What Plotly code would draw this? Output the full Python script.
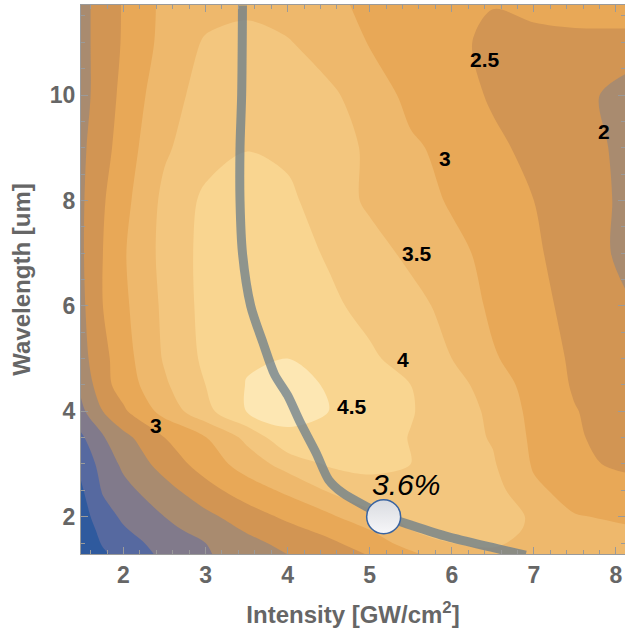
import plotly.graph_objects as go

# ---------------- data ----------------
intensity = [1.45, 1.75, 2.0, 2.5, 3.0, 3.5, 4.0, 4.5, 5.0, 5.5, 6.0, 6.5, 7.0, 7.5, 8.15]
wavelength = [1.25, 1.5, 1.75, 2.0, 2.5, 3.0, 3.5, 4.0, 4.5, 5.0, 6.0, 7.0, 8.0, 9.0, 10.0, 11.0, 11.75]
efficiency = [
    [0.00, 0.40, 0.65, 1.10, 1.45, 1.72, 1.98, 2.25, 2.50, 2.85, 3.25, 3.40, 3.35, 3.20, 3.15],
    [0.05, 0.55, 0.80, 1.19, 1.50, 1.85, 2.15, 2.40, 2.75, 3.20, 3.50, 3.55, 3.40, 3.15, 3.10],
    [0.10, 0.67, 0.95, 1.35, 1.70, 2.05, 2.35, 2.65, 3.00, 3.50, 3.65, 3.62, 3.45, 3.10, 3.03],
    [0.20, 0.80, 1.08, 1.50, 1.87, 2.25, 2.60, 2.90, 3.35, 3.62, 3.72, 3.68, 3.45, 3.02, 2.95],
    [0.35, 1.05, 1.35, 1.82, 2.32, 2.75, 3.10, 3.55, 3.85, 3.95, 3.85, 3.70, 3.08, 2.85, 2.65],
    [0.55, 1.20, 1.60, 2.20, 2.72, 3.22, 3.70, 4.06, 4.10, 4.00, 3.80, 3.55, 2.95, 2.58, 2.42],
    [0.85, 1.45, 1.85, 2.50, 2.98, 3.62, 4.40, 4.42, 4.22, 3.98, 3.72, 3.46, 2.90, 2.55, 2.30],
    [1.30, 2.00, 2.42, 3.18, 3.85, 4.51, 4.65, 4.50, 4.25, 4.03, 3.75, 3.40, 2.85, 2.52, 2.25],
    [1.50, 2.33, 2.72, 3.43, 4.00, 4.52, 4.62, 4.47, 4.20, 4.00, 3.70, 3.25, 2.80, 2.45, 2.15],
    [1.75, 2.35, 2.80, 3.55, 4.10, 4.45, 4.50, 4.30, 4.08, 3.80, 3.50, 3.05, 2.75, 2.42, 2.10],
    [1.80, 2.50, 2.90, 3.60, 4.15, 4.38, 4.40, 4.10, 3.85, 3.65, 3.35, 2.90, 2.60, 2.40, 2.03],
    [1.85, 2.50, 2.95, 3.65, 4.15, 4.30, 4.20, 3.95, 3.68, 3.40, 3.12, 2.87, 2.58, 2.25, 1.88],
    [1.85, 2.45, 2.85, 3.62, 4.10, 4.25, 4.10, 3.75, 3.42, 3.20, 2.95, 2.75, 2.50, 2.28, 1.88],
    [1.85, 2.30, 2.75, 3.43, 3.80, 3.98, 3.90, 3.70, 3.43, 3.08, 2.85, 2.58, 2.40, 2.20, 1.88],
    [1.80, 2.20, 2.65, 3.30, 3.68, 3.85, 3.80, 3.58, 3.30, 2.85, 2.68, 2.45, 2.30, 2.13, 1.85],
    [1.80, 2.20, 2.55, 3.15, 3.55, 3.65, 3.53, 3.30, 2.97, 2.80, 2.60, 2.40, 2.30, 2.30, 2.20],
    [1.80, 2.20, 2.54, 3.12, 3.30, 3.38, 3.30, 3.10, 2.90, 2.78, 2.65, 2.52, 2.70, 2.85, 3.05],
]

# optimum path
path_x = [3.45, 3.44, 3.42, 3.42, 3.45, 3.55, 3.70, 3.84, 4.00, 4.15, 4.35, 4.50, 4.67, 4.96, 5.20, 5.52, 5.95, 6.45, 6.90]
path_y = [11.70, 10.0, 9.0, 8.0, 7.0, 6.0, 5.3, 4.7, 4.3, 3.8, 3.2, 2.7, 2.45, 2.19, 2.0, 1.83, 1.62, 1.43, 1.27]

point_x = [5.17]
point_y = [2.0]
point_label = "3.6%"

label_text = ["2.5", "2", "3", "3.5", "4", "4.5", "3"]
label_x = [6.41, 7.85, 5.92, 5.58, 5.40, 4.79, 2.40]
label_y = [10.67, 9.30, 8.80, 7.00, 4.99, 4.10, 3.73]

band_colors = ['#2F5A9E', '#5669A0', '#817A8B', '#A98B6F', '#D29553',
               '#E8A857', '#EEB86C', '#F3C67E', '#F9D590', '#FDE7B3']

# ---------------- figure ----------------
n = len(band_colors)
colorscale = [[i / (n - 1), c] for i, c in enumerate(band_colors)]

fig = go.Figure()
fig.add_trace(go.Contour(
    x=intensity, y=wavelength, z=efficiency,
    colorscale=colorscale, showscale=False,
    contours=dict(start=0.5, end=4.5, size=0.5, coloring='fill', showlines=False),
    line=dict(width=0, smoothing=0.9),
    hoverinfo='skip',
))

fig.add_trace(go.Scatter(
    x=path_x, y=path_y, mode='lines',
    line=dict(color='rgba(105,125,140,0.75)', width=9, shape='spline', smoothing=0.8),
    cliponaxis=False, hoverinfo='skip', showlegend=False,
))

fig.add_trace(go.Scatter(
    x=point_x, y=point_y, mode='markers',
    marker=dict(size=34, color='#D9DBE0',
                gradient=dict(type='vertical', color='#F7F7F9'),
                line=dict(color='#3A64A0', width=1.5)),
    hoverinfo='skip', showlegend=False,
))

annotations = []
for t, x, y in zip(label_text, label_x, label_y):
    annotations.append(dict(x=x, y=y, text=f"<b>{t}</b>", showarrow=False,
                            font=dict(family='Liberation Sans, Arial', size=21, color='black')))
annotations.append(dict(x=point_x[0] + 0.27, y=point_y[0] + 0.62, text=f"<i>{point_label}</i>",
                        showarrow=False,
                        font=dict(family='Liberation Sans, Arial', size=30, color='black')))

axis_common = dict(
    showgrid=False, zeroline=False, showline=True, linecolor='#9A9A9A', linewidth=1,
    mirror='allticks', ticks='inside', ticklen=7, tickwidth=1, tickcolor='#9A9A9A',
    automargin=False,
    tickfont=dict(family='Liberation Sans, Arial', size=23, color='#666666', weight='bold'),
)

fig.update_layout(
    width=625, height=630,
    margin=dict(l=81, r=0, t=5, b=76, autoexpand=False),
    paper_bgcolor='white', plot_bgcolor='white',
    annotations=annotations,
    showlegend=False,
    xaxis=dict(range=[1.483, 8.11], tickvals=[2, 3, 4, 5, 6, 7, 8],
               minor=dict(dtick=0.2, ticks='inside', ticklen=4, tickcolor='#9A9A9A'),
               title=dict(text='Intensity [GW/cm<sup>2</sup>]', standoff=19,
                          font=dict(family='Liberation Sans, Arial', size=24, color='#666666', weight='bold')),
               **axis_common),
    yaxis=dict(range=[1.292, 11.708], tickvals=[2, 4, 6, 8, 10],
               minor=dict(dtick=0.5, ticks='inside', ticklen=4, tickcolor='#9A9A9A'),
               title=dict(text='Wavelength [um]', standoff=12,
                          font=dict(family='Liberation Sans, Arial', size=24, color='#666666', weight='bold')),
               **axis_common),
)

fig.write_html("out.html", config={'displayModeBar': False},
               post_script="document.body.style.margin='0px';document.body.style.overflow='hidden';")
